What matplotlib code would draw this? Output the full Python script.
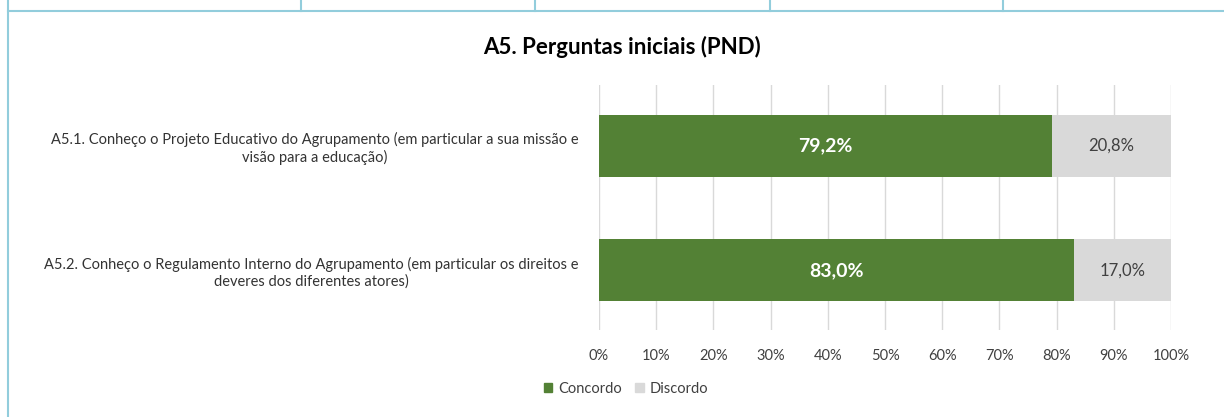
import matplotlib.pyplot as plt
from matplotlib.lines import Line2D
from matplotlib.patches import Patch

plt.rcParams['font.family'] = ['Lato', 'DejaVu Sans']

# Dados do gráfico
questions = [
    'A5.1. Conheço o Projeto Educativo do Agrupamento (em particular a sua missão e\nvisão para a educação)',
    'A5.2. Conheço o Regulamento Interno do Agrupamento (em particular os direitos e\ndeveres dos diferentes atores)',
]
concordo = [79.2, 83.0]
discordo = [20.8, 17.0]
series_names = ['Concordo', 'Discordo']
ticks = [0, 10, 20, 30, 40, 50, 60, 70, 80, 90, 100]

green = '#538135'
grey = '#D9D9D9'
border = '#92CDDC'

W, H = 1224, 417
fig = plt.figure(figsize=(W / 100, H / 100), dpi=100)

# moldura da célula (linhas azuis)
def fx(x):
    return x / W

def fy(y):
    return 1 - y / H

fig.add_artist(Line2D([fx(8), 1], [fy(11), fy(11)], color=border, lw=1.5))
fig.add_artist(Line2D([fx(8), fx(8)], [0, 1], color=border, lw=1.5))
for xc in [301, 535, 770, 1003]:
    fig.add_artist(Line2D([fx(xc), fx(xc)], [fy(11), 1], color=border, lw=1.5))

ax = fig.add_axes([fx(599), fy(330), fx(1171) - fx(599), fy(85) - fy(330)])

y = list(range(len(questions)))
ax.barh(y, concordo, height=0.5, color=green, zorder=3)
ax.barh(y, discordo, left=concordo, height=0.5, color=grey, zorder=3)

for i in y:
    ax.text(concordo[i] / 2, i, f'{concordo[i]:.1f}%'.replace('.', ','),
            ha='center', va='center', color='white', fontsize=14, fontweight='bold', zorder=4)
    ax.text(concordo[i] + discordo[i] / 2, i, f'{discordo[i]:.1f}%'.replace('.', ','),
            ha='center', va='center', color='#404040', fontsize=12, zorder=4)

ax.set_xlim(0, 100)
ax.set_ylim(1.48, -0.49)
ax.set_xticks(ticks)
ax.set_xticklabels([f'{t}%' for t in ticks], fontsize=10.5, color='#404040')
ax.tick_params(axis='x', length=0, pad=14)
ax.set_yticks(y)
ax.set_yticklabels(questions, fontsize=10.5, color='#333333', multialignment='center')
ax.tick_params(axis='y', length=0, pad=15)
ax.grid(axis='x', color=grey, lw=1, zorder=0)
for s in ax.spines.values():
    s.set_visible(False)

fig.text(fx(622), fy(47), 'A5. Perguntas iniciais (PND)', ha='center', va='center',
         fontsize=16, fontweight='bold', color='black')

handles = [Patch(color=green), Patch(color=grey)]
fig.legend(handles, series_names, loc='center', bbox_to_anchor=(fx(626), fy(389)), ncol=2,
           frameon=False, fontsize=10.5, handlelength=0.6, handleheight=0.6,
           handletextpad=0.4, columnspacing=0.9, labelcolor='#404040')

fig.savefig('out.png', dpi=100)
